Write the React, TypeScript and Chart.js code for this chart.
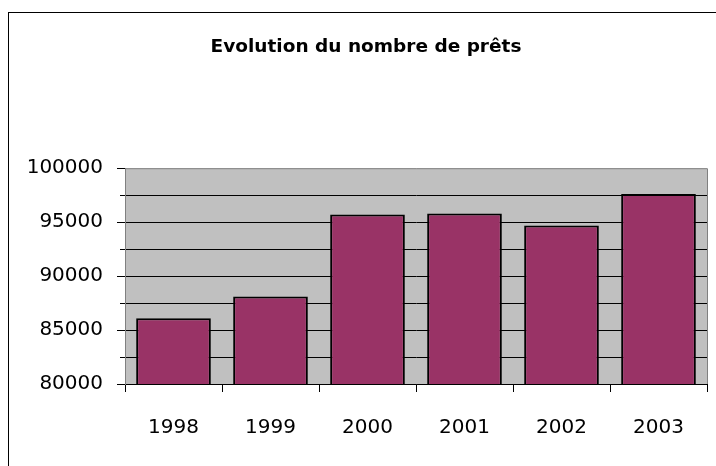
import React, { useEffect, useRef } from "react";
import { Chart, registerables } from "chart.js";

Chart.register(...registerables);

const categories = ["1998", "1999", "2000", "2001", "2002", "2003"];
const loans = [86100, 88100, 95700, 95800, 94700, 97600];
const yMin = 80000;
const yMax = 100000;
const yStep = 2500;
const labelStep = 5000;
const titleText = "Evolution du nombre de prêts";

const decorPlugin = {
  id: "decor",
  beforeDraw(chart: any) {
    const { ctx, chartArea } = chart;
    ctx.save();
    ctx.fillStyle = "#ffffff";
    ctx.fillRect(0, 0, chart.width, chart.height);
    ctx.fillStyle = "#c0c0c0";
    ctx.fillRect(chartArea.left, chartArea.top, chartArea.right - chartArea.left, chartArea.bottom - chartArea.top);
    ctx.strokeStyle = "#000000";
    ctx.lineWidth = 1;
    ctx.strokeRect(8.5, 12.5, chart.width + 20, chart.height + 20);
    ctx.restore();
  },
  afterDraw(chart: any) {
    const { ctx, chartArea } = chart;
    const y = chart.scales.y;
    ctx.save();
    ctx.strokeStyle = "#808080";
    ctx.lineWidth = 1;
    ctx.beginPath();
    ctx.moveTo(chartArea.left, chartArea.top + 0.5);
    ctx.lineTo(chartArea.right + 0.5, chartArea.top + 0.5);
    ctx.lineTo(chartArea.right + 0.5, chartArea.bottom);
    ctx.stroke();
    ctx.strokeStyle = "#000000";
    ctx.beginPath();
    for (const t of y.ticks) {
      const py = Math.round(y.getPixelForValue(t.value)) + 0.5;
      const len = t.value % labelStep === 0 ? 8 : 5;
      ctx.moveTo(chartArea.left - len, py);
      ctx.lineTo(chartArea.left, py);
    }
    ctx.stroke();
    ctx.restore();
  },
};

export default function App() {
  const ref = useRef<HTMLCanvasElement>(null);
  useEffect(() => {
    const prevMargin = document.body.style.margin;
    document.body.style.margin = "0";
    const chart = new Chart(ref.current!, {
      type: "bar",
      data: {
        labels: categories,
        datasets: [
          {
            data: loans,
            backgroundColor: "#993366",
            borderColor: "#000000",
            borderWidth: 2,
            borderSkipped: false,
            barPercentage: 0.77,
            categoryPercentage: 1,
          },
        ],
      },
      options: {
        animation: false,
        responsive: false,
        devicePixelRatio: 1,
        layout: { padding: { left: 25, right: 9, top: 0, bottom: 0 } },
        plugins: {
          legend: { display: false },
          tooltip: { enabled: false },
          title: {
            display: true,
            text: titleText,
            color: "#000000",
            font: { family: "'DejaVu Sans', sans-serif", size: 18.5, weight: "bold" },
            padding: { top: 36, bottom: 110 },
          },
        },
        scales: {
          x: {
            grid: {
              offset: true,
              display: true,
              drawOnChartArea: false,
              drawTicks: true,
              tickLength: 8,
              color: "#000000",
            },
            border: { display: true, color: "#000000", width: 1 },
            ticks: {
              color: "#000000",
              font: { family: "'DejaVu Sans', sans-serif", size: 20 },
              padding: 24,
              maxRotation: 0,
            },
            afterFit(scale: any) {
              scale.height = 82;
            },
          },
          y: {
            min: yMin,
            max: yMax,
            grid: {
              color: (c: any) => (c.tick && c.tick.value === yMax ? "rgba(0,0,0,0)" : "#000000"),
              lineWidth: 1,
              drawTicks: false,
            },
            border: { display: true, color: "#808080", width: 1 },
            ticks: {
              stepSize: yStep,
              autoSkip: false,
              color: "#000000",
              font: { family: "'DejaVu Sans', sans-serif", size: 20 },
              padding: 22,
              callback: (v: any) => (Number(v) % labelStep === 0 ? String(v) : ""),
            },
            afterFit(scale: any) {
              scale.width = 100;
            },
          },
        },
      },
      plugins: [decorPlugin],
    });
    return () => {
      chart.destroy();
      document.body.style.margin = prevMargin;
    };
  }, []);
  return (
    <div style={{ position: "absolute", left: 0, top: 0, width: 716, height: 466 }}>
      <canvas ref={ref} width={716} height={466} style={{ display: "block", width: 716, height: 466 }} />
    </div>
  );
}
